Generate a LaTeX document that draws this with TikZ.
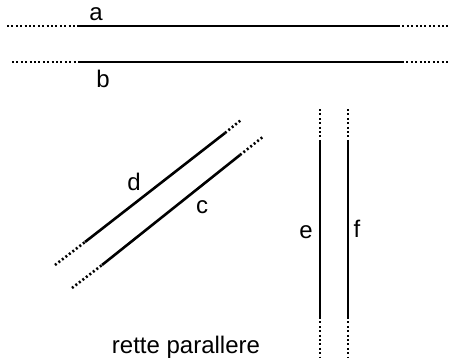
\documentclass[tikz,border=0pt]{standalone}
\usepackage{fontspec}
\setmainfont{Liberation Sans}
\begin{document}
\begin{tikzpicture}[x=1pt,y=-1pt,
  solidln/.style={line width=2.6pt,black},
  dotln/.style={line width=2.6pt,black,dash pattern=on 2pt off 2.4pt},
  lbl/.style={font=\fontsize{24}{28}\selectfont,inner sep=0pt}]
\useasboundingbox (0,0) rectangle (450,360);
% line a
\coordinate (a0) at (7,26); \coordinate (a1) at (78,26);
\coordinate (a2) at (398,26); \coordinate (a3) at (448,26);
\draw[dotln] (a0) -- (a1); \draw[solidln] (a1) -- (a2); \draw[dotln] (a2) -- (a3);
% line b
\coordinate (b0) at (12,62); \coordinate (b1) at (80,62);
\coordinate (b2) at (402,62); \coordinate (b3) at (448,62);
\draw[dotln] (b0) -- (b1); \draw[solidln] (b1) -- (b2); \draw[dotln] (b2) -- (b3);
% line d
\coordinate (d0) at (55,265); \coordinate (d1) at (85,242);
\coordinate (d2) at (225,133); \coordinate (d3) at (241,120);
\draw[dotln] (d0) -- (d1); \draw[solidln] (d1) -- (d2); \draw[dotln] (d2) -- (d3);
% line c
\coordinate (c0) at (72,288); \coordinate (c1) at (102,265);
\coordinate (c2) at (240,155); \coordinate (c3) at (264,136);
\draw[dotln] (c0) -- (c1); \draw[solidln] (c1) -- (c2); \draw[dotln] (c2) -- (c3);
% line e
\coordinate (e0) at (320,109); \coordinate (e1) at (320,140);
\coordinate (e2) at (320,317); \coordinate (e3) at (320,358);
\draw[dotln] (e0) -- (e1); \draw[solidln] (e1) -- (e2); \draw[dotln] (e2) -- (e3);
% line f
\coordinate (f0) at (348,109); \coordinate (f1) at (348,140);
\coordinate (f2) at (348,317); \coordinate (f3) at (348,358);
\draw[dotln] (f0) -- (f1); \draw[solidln] (f1) -- (f2); \draw[dotln] (f2) -- (f3);
% labels
\node[lbl] (la) at (96,14) {a};
\node[lbl] (lb) at (103,79) {b};
\node[lbl] (ld) at (134,182) {d};
\node[lbl] (lc) at (202,207) {c};
\node[lbl] (le) at (306,232) {e};
\node[lbl] (lf) at (357,229) {f};
\node[lbl] (title) at (186,347) {rette parallere};
\end{tikzpicture}
\end{document}
